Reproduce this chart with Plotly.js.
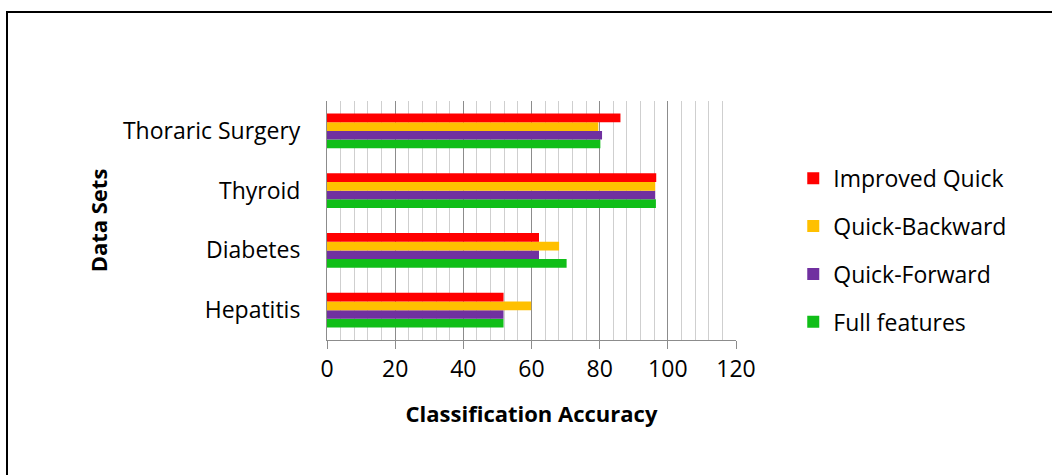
<!DOCTYPE html>
<html>
<head>
<meta charset="utf-8">
<script src="https://cdn.plot.ly/plotly-3.0.1.min.js"></script>
<style>html,body{margin:0;padding:0;background:#fff;}#chart{width:1052px;height:475px;}</style>
</head>
<body>
<div id="chart"></div>
<script>
const categories = ["Hepatitis", "Diabetes", "Thyroid", "Thoraric Surgery"];
const seriesNames = ["Full features", "Quick-Forward", "Quick-Backward", "Improved Quick"];
const fullFeatures = [51.8, 70.3, 96.5, 80.2];
const quickForward = [51.8, 62.2, 96.3, 80.7];
const quickBackward = [59.9, 68.1, 96.3, 79.6];
const improvedQuick = [51.8, 62.2, 96.6, 86.1];
const xTicks = [0, 20, 40, 60, 80, 100, 120];

const colors = ["#10BE18", "#7030A0", "#FFC000", "#FF0000"];
const values = [fullFeatures, quickForward, quickBackward, improvedQuick];
const FONT = "'Open Sans', Lato, sans-serif";
const FS = 23;
const FT = 22;

const traces = seriesNames.map((name, i) => ({
  type: "bar",
  orientation: "h",
  name: name,
  y: categories,
  x: values[i],
  legendgroup: "g" + i,
  legendrank: 1000 - i,
  marker: {color: colors[i], line: {width: 0}},
  hoverinfo: "x+name"
}));

const L = 327, T = 101, PW = 409, PH = 239;
const layout = {
  width: 1052, height: 475,
  margin: {l: L, r: 1052 - L - PW, t: T, b: 475 - T - PH, pad: 0},
  paper_bgcolor: "#ffffff",
  plot_bgcolor: "#ffffff",
  barmode: "group",
  bargap: 0.42,
  bargroupgap: 0,
  font: {family: FONT, size: FS, color: "#000"},
  showlegend: true,
  legend: {
    traceorder: "grouped",
    tracegroupgap: 15,
    x: 1.14, xanchor: "left",
    y: 0.767, yanchor: "top",
    font: {family: FONT, size: FS, color: "#000"},
    itemwidth: 30,
    bgcolor: "rgba(0,0,0,0)"
  },
  xaxis: {
    range: [0, 120],
    tickvals: xTicks,
    ticktext: xTicks.map(String),
    showgrid: true,
    gridcolor: "#8c8c8c",
    gridwidth: 1,
    minor: {dtick: 4, tick0: 0, showgrid: true, gridcolor: "#cfcfcf", gridwidth: 1, ticks: ""},
    zeroline: false,
    showline: true,
    linecolor: "#8c8c8c",
    linewidth: 1,
    ticks: "outside",
    ticklen: 8,
    tickcolor: "#8c8c8c",
    tickfont: {family: FONT, size: FS, color: "#000"},
    title: {text: "<b>Classification Accuracy</b>", font: {family: FONT, size: FT, color: "#000"}, standoff: 24},
    fixedrange: true
  },
  yaxis: {
    categoryorder: "array",
    categoryarray: categories,
    showgrid: false,
    zeroline: false,
    showline: true,
    linecolor: "#8c8c8c",
    linewidth: 1,
    ticks: "",
    ticklabelstandoff: 21,
    tickfont: {family: FONT, size: FS, color: "#000"},
    title: {text: "<b>Data Sets</b>", font: {family: FONT, size: FT, color: "#000"}, standoff: 9},
    fixedrange: true
  },
  shapes: [{
    type: "rect", xref: "paper", yref: "paper",
    x0: (7 - L) / PW, x1: (1060 - L) / PW,
    y0: (T + PH - 490) / PH, y1: (T + PH - 12) / PH,
    line: {color: "#000", width: 2}, fillcolor: "rgba(0,0,0,0)", layer: "below"
  }]
};

Plotly.newPlot("chart", traces, layout, {displayModeBar: false, staticPlot: true});
</script>
</body>
</html>
